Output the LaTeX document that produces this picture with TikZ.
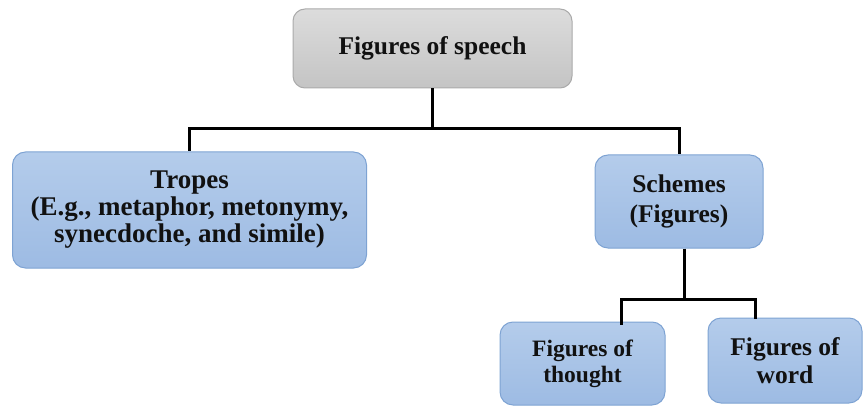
\documentclass[tikz,border=0pt]{standalone}
\usepackage{fontspec}
\setmainfont{Liberation Serif}
\usepackage{xcolor}
\usepackage{tikz}
\usetikzlibrary{positioning}

\definecolor{topgray}{HTML}{DCDCDC}
\definecolor{botgray}{HTML}{C4C4C4}
\definecolor{edgegray}{HTML}{AAAAAA}
\definecolor{topblue}{HTML}{B4CCEB}
\definecolor{botblue}{HTML}{9DBBE3}
\definecolor{edgeblue}{HTML}{7EA3D3}
\definecolor{inkblack}{HTML}{111111}

\tikzset{
  rootbox/.style={rectangle,rounded corners=12pt,draw=edgegray,line width=1pt,
    top color=topgray,bottom color=botgray,align=center,text=inkblack,
    font=\fontsize{25.5}{28}\selectfont\bfseries},
  catbox/.style={rectangle,rounded corners=13pt,draw=edgeblue,line width=1pt,
    top color=topblue,bottom color=botblue,align=center,text=inkblack,
    font=\fontsize{25.5}{28}\selectfont\bfseries},
  branch/.style={line width=3pt,black}
}

\begin{document}
\begin{tikzpicture}[x=1pt,y=-1pt]
  \useasboundingbox (0,0) rectangle (866,406);
  \node[rootbox,minimum width=279pt,minimum height=79pt] (speech) at (432.5,48.5) {Figures of speech};
  \node[catbox,minimum width=354pt,minimum height=116pt,font=\fontsize{27}{27}\selectfont\bfseries] (tropes) at (189.5,210) {Tropes\\(E.g., metaphor, metonymy,\\synecdoche, and simile)};
  \node[catbox,minimum width=168pt,minimum height=93pt,font=\fontsize{25.5}{30}\selectfont\bfseries] (schemes) at (679,201.5) {Schemes\\(Figures)};
  \node[catbox,minimum width=165pt,minimum height=83pt,font=\fontsize{23.5}{26}\selectfont\bfseries] (thought) at (582.5,363.5) {Figures of\\thought};
  \node[catbox,minimum width=154pt,minimum height=85pt] (word) at (785,360.5) {Figures of\\word};
  % connectors
  \coordinate (top) at (432.5,129);
  \coordinate (low) at (684,299);
  \draw[branch] (speech.south) -- (top);
  \draw[branch] (top) -| (tropes.north);
  \draw[branch] (top) -| (schemes.north);
  \draw[branch] (schemes.south -| low) -- (low);
  \draw[branch] (low) -| ([yshift=-3pt]thought.north -| 621,0);
  \draw[branch] (low) -| ([yshift=-1pt]word.north -| 755,0);
\end{tikzpicture}
\end{document}
